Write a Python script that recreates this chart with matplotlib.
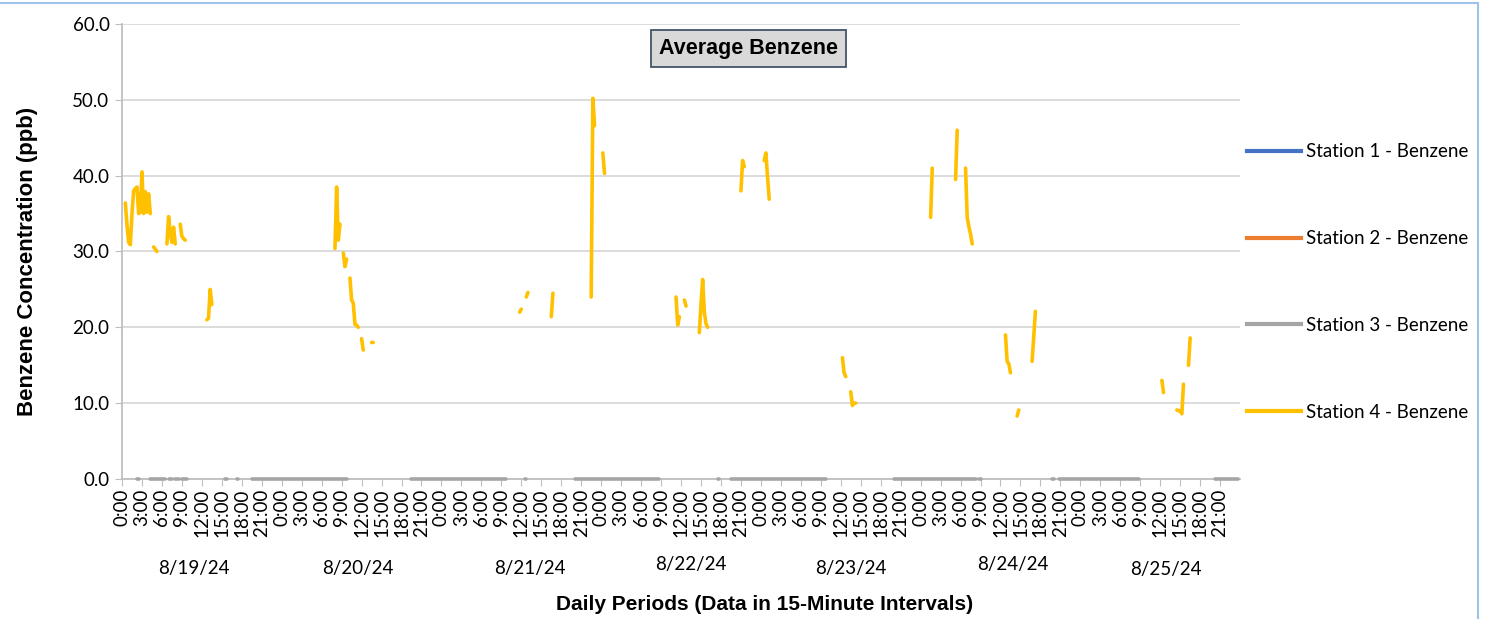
import numpy as np
import matplotlib.pyplot as plt
from matplotlib.lines import Line2D
from matplotlib.patches import Rectangle
import matplotlib.transforms as mtransforms

plt.rcParams['font.family'] = ['Lato', 'DejaVu Sans']
BOLD = ['Liberation Sans', 'DejaVu Sans']

# x axis: hours since 8/19/24 0:00, data every 15 minutes
time_labels = ["0:00", "3:00", "6:00", "9:00", "12:00", "15:00", "18:00", "21:00"] * 7
day_labels = ["8/19/24", "8/20/24", "8/21/24", "8/22/24", "8/23/24", "8/24/24", "8/25/24"]

series_names = ["Station 1 - Benzene", "Station 2 - Benzene",
                "Station 3 - Benzene", "Station 4 - Benzene"]
series_colors = ["#4472C4", "#ED7D31", "#A5A5A5", "#FFC000"]

# station 4 benzene (ppb), one list per unbroken run
st4_hours = [
    [0.5, 0.75, 1.0, 1.25, 1.5, 1.75, 2.0, 2.25, 2.5, 2.75, 3.0, 3.25, 3.5, 3.75, 4.0, 4.25],
    [4.75, 5.0, 5.25],
    [6.75, 7.0, 7.25, 7.5, 7.75, 8.0],
    [8.75, 9.0, 9.25, 9.5],
    [12.75, 13.0, 13.25, 13.5],
    [32.0, 32.25, 32.5, 32.75],
    [33.25, 33.5, 33.75],
    [34.25, 34.5, 34.75, 35.0, 35.25, 35.5],
    [36.0, 36.25],
    [37.5, 37.75],
    [59.75, 60.0],
    [60.75, 61.0],
    [64.5, 64.75],
    [70.5, 70.75, 71.0],
    [72.25, 72.5],
    [83.25, 83.5, 83.75],
    [84.5, 84.75],
    [86.75, 87.0, 87.25, 87.5, 87.75, 88.0],
    [93.0, 93.25, 93.5],
    [96.5, 96.75, 97.0, 97.25],
    [108.25, 108.5, 108.75],
    [109.5, 109.75, 110.0, 110.25],
    [121.5, 121.75],
    [125.25, 125.5],
    [126.75, 127.0, 127.25, 127.5, 127.75],
    [132.75, 133.0, 133.25, 133.5],
    [134.5, 134.75],
    [136.75, 137.0, 137.25],
    [156.25, 156.5],
    [158.5, 158.75, 159.0, 159.25, 159.5],
    [160.25, 160.5],
]
st4_values = [
    [36.4, 33.5, 31.2, 30.9, 35.0, 38.0, 38.3, 38.5, 35.0, 35.2, 40.5, 35.0, 37.9, 35.2, 37.6, 35.0],
    [30.6, 30.3, 30.0],
    [31.0, 34.6, 32.5, 31.2, 33.2, 31.0],
    [33.6, 32.0, 31.7, 31.5],
    [21.0, 21.2, 25.0, 23.0],
    [30.4, 38.5, 31.5, 33.6],
    [29.8, 28.0, 29.0],
    [26.5, 23.6, 23.2, 20.4, 20.3, 20.0],
    [18.5, 17.0],
    [18.0, 18.0],
    [22.0, 22.4],
    [24.0, 24.6],
    [21.4, 24.5],
    [24.0, 50.2, 46.6],
    [43.0, 40.3],
    [24.0, 20.3, 21.4],
    [23.6, 22.8],
    [19.3, 23.0, 26.3, 22.0, 20.5, 20.0],
    [38.0, 42.0, 41.2],
    [42.0, 43.0, 39.8, 36.9],
    [16.0, 14.0, 13.5],
    [11.5, 9.7, 10.0, 10.0],
    [34.5, 41.0],
    [39.5, 46.0],
    [41.0, 34.5, 33.3, 32.3, 31.0],
    [19.0, 15.5, 15.2, 14.0],
    [8.3, 9.1],
    [15.5, 18.8, 22.1],
    [13.0, 11.4],
    [9.1, 9.0, 9.0, 8.6, 12.5],
    [15.0, 18.6],
]

# station 3 benzene: runs (first hour, last hour) where it reads 0.0
st3_zero_runs = [
    (2.25, 2.5), (4.25, 5.5), (5.75, 6.5), (7.0, 7.5), (8.0, 8.5), (9.0, 9.75),
    (15.5, 15.75), (17.25, 17.5), (19.5, 20.75), (21.0, 33.75), (43.5, 57.75),
    (60.5, 60.75), (68.0, 80.75), (89.5, 89.75), (91.5, 105.75), (116.0, 128.25),
    (128.75, 129.0), (139.75, 140.0), (140.75, 152.75), (164.25, 167.75),
]

hours = np.arange(0, 168, 0.25)
idx = {h: i for i, h in enumerate(hours)}

st1 = np.full(len(hours), np.nan)
st2 = np.full(len(hours), np.nan)
st3 = np.full(len(hours), np.nan)
st4 = np.full(len(hours), np.nan)
for a, b in st3_zero_runs:
    st3[idx[a]:idx[b] + 1] = 0.0
for hs, vs in zip(st4_hours, st4_values):
    for h, v in zip(hs, vs):
        st4[idx[h]] = v

fig = plt.figure(figsize=(14.86, 6.19), dpi=100)
ax = fig.add_axes([0.0821, 0.2262, 0.7524, 0.7350])

for data, name, col in zip([st1, st2, st3, st4], series_names, series_colors):
    ax.plot(hours, data, color=col, lw=2.6, label=name, solid_capstyle='round',
            clip_on=False, zorder=3)

ax.set_xlim(0, 168)
ax.set_ylim(0, 60)
ax.set_yticks(np.arange(0, 61, 10))
ax.set_yticklabels([f"{v:.1f}" for v in np.arange(0, 61, 10)])
ax.set_xticks(np.arange(0, 168, 3))
ax.set_xticklabels(time_labels, rotation=90)
ax.grid(axis='y', color='#d9d9d9', lw=1.3)
ax.set_axisbelow(True)
for s in ['top', 'right']:
    ax.spines[s].set_visible(False)
for s in ['left', 'bottom']:
    ax.spines[s].set_color('#bfbfbf')
    ax.spines[s].set_linewidth(1.3)
ax.tick_params(axis='both', colors='#bfbfbf', labelcolor='black', labelsize=13.5, length=5)
ax.tick_params(axis='x', pad=2)
ax.tick_params(axis='y', pad=4)

# day labels below the time labels
trans = mtransforms.blended_transform_factory(ax.transData, ax.transAxes)
day_pos = [10.8, 35.4, 61.35, 85.5, 109.5, 133.8, 156.9]
day_y = [-0.196, -0.196, -0.196, -0.189, -0.196, -0.189, -0.199]
for lab, x, y in zip(day_labels, day_pos, day_y):
    ax.text(x, y, lab, transform=trans, ha='center', va='center', fontsize=13.5)

fig.text(748.5 / 1486, 1 - 48.5 / 619, "Average Benzene", ha='center', va='center',
         fontsize=15.5, fontweight='bold', family=BOLD,
         bbox=dict(boxstyle='square,pad=0.38', fc='#d9d9d9', ec='#44546a', lw=1.3))

fig.text(765 / 1486, 1 - 604 / 619, "Daily Periods (Data in 15-Minute Intervals)",
         ha='center', va='center', fontsize=15, fontweight='bold', family=BOLD)
fig.text(28 / 1486, 1 - 261 / 619, "Benzene Concentration (ppb)", rotation=90,
         ha='center', va='center', fontsize=16, fontweight='bold', family=BOLD)

handles = [Line2D([], [], color=c, lw=3) for c in series_colors]
ax.legend(handles, series_names, loc='center left', bbox_to_anchor=(0.998, 0.433),
          frameon=False, fontsize=13.5, handlelength=2.85, handletextpad=0.27,
          labelspacing=3.72, borderpad=0)

fig.patches.append(Rectangle((-0.01, -0.02), 1478 / 1486 + 0.01, 1 - 3 / 619 + 0.02,
                             transform=fig.transFigure, fill=False, ec='#9dc3e6', lw=1.5))

fig.savefig("out.png", dpi=100)
